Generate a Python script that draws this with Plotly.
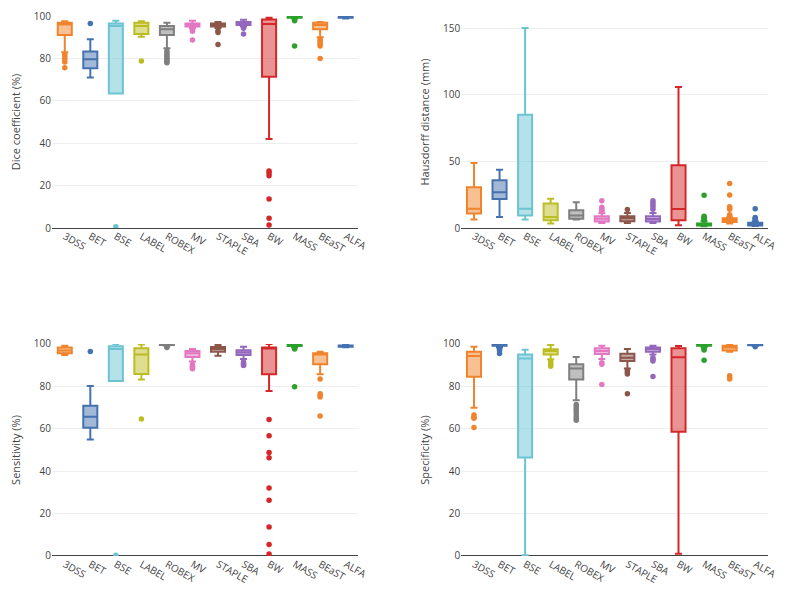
import plotly.graph_objects as go
from plotly.subplots import make_subplots

methods = ["3DSS", "BET", "BSE", "LABEL", "ROBEX", "MV", "STAPLE", "SBA", "BW", "MASS", "BEaST", "ALFA"]
colors = ["#f0842c", "#4472b0", "#6cc3d3", "#bcbd22", "#7f7f7f", "#e377c2",
          "#8c564b", "#9467bd", "#d62728", "#2ca02c", "#f0842c", "#4472b0"]

# Dice coefficient (%)
dice_lower = [82.9, 71.0, 63.5, 90.2, 84.8, 94.2, 94.3, 95.0, 42.0, 98.8, 90.0, 98.8]
dice_q1 = [91.0, 75.3, 63.5, 91.5, 91.0, 95.0, 95.0, 95.8, 71.4, 99.2, 93.8, 99.2]
dice_median = [96.0, 79.6, 95.3, 95.3, 93.7, 95.8, 95.8, 96.5, 96.2, 99.4, 95.8, 99.4]
dice_q3 = [96.8, 83.2, 96.5, 96.8, 95.3, 96.5, 96.5, 97.2, 98.4, 99.6, 96.8, 99.6]
dice_upper = [97.5, 89.0, 97.8, 97.5, 96.8, 97.8, 97.2, 98.2, 99.2, 99.8, 97.2, 99.9]
dice_outliers = [
    [81.9, 80.8, 79.6, 78.3, 75.6],
    [96.5],
    [0.6],
    [78.8],
    [83.5, 82.5, 81.5, 80.8, 80.0, 79.2, 78.5, 78.0],
    [93.4, 92.8, 88.7],
    [93.0, 92.2, 86.6],
    [94.2, 91.5],
    [26.9, 25.9, 24.7, 13.7, 4.6, 1.4],
    [98.2, 97.8, 85.8],
    [89.0, 88.2, 87.4, 86.6, 85.8, 80.0],
    [],
]

# Hausdorff distance (mm)
haus_lower = [6.3, 8.3, 6.3, 3.3, 6.3, 3.8, 3.8, 3.8, 2.0, 1.3, 3.3, 1.5]
haus_q1 = [10.8, 21.8, 9.3, 5.8, 7.0, 4.8, 5.0, 4.8, 5.8, 1.8, 4.5, 1.8]
haus_median = [14.5, 26.8, 14.5, 8.3, 9.3, 7.0, 7.3, 6.8, 14.3, 2.5, 6.0, 3.0]
haus_q3 = [30.6, 35.8, 84.9, 18.3, 13.3, 8.8, 8.8, 8.8, 47.1, 3.3, 7.3, 4.0]
haus_upper = [48.8, 43.6, 150.0, 22.0, 19.3, 11.0, 11.3, 11.3, 105.7, 5.0, 8.0, 5.0]
haus_outliers = [
    [], [], [], [], [],
    [20.5, 15.5, 14.5, 13.3, 12.5],
    [13.8],
    [20.5, 19.0, 17.5, 16.0, 14.0],
    [],
    [24.5, 8.8, 8.0, 7.3, 6.5, 6.0],
    [33.3, 24.8, 16.0, 15.0, 14.0, 10.0, 9.3],
    [14.5, 7.8, 7.0, 6.3],
]

# Sensitivity (%)
sens_lower = [94.8, 55.0, 82.5, 83.3, 99.2, 91.7, 94.5, 92.9, 77.8, 98.5, 85.7, 98.5]
sens_q1 = [95.6, 60.5, 82.5, 85.8, 99.5, 93.9, 96.4, 94.8, 85.7, 99.0, 90.4, 98.7]
sens_median = [96.9, 65.7, 97.6, 95.1, 99.8, 95.6, 97.6, 96.0, 97.9, 99.3, 95.0, 99.0]
sens_q3 = [98.3, 70.9, 98.9, 98.0, 100.0, 96.7, 98.6, 97.0, 98.4, 99.6, 95.6, 99.3]
sens_upper = [99.2, 80.2, 100.0, 99.8, 100.0, 97.6, 99.5, 98.7, 100.0, 99.9, 96.4, 99.7]
sens_outliers = [
    [],
    [96.5],
    [0.3],
    [64.6],
    [98.9, 98.4],
    [90.3, 89.5, 89.0, 88.3],
    [],
    [91.5, 90.8, 90.3, 89.8],
    [64.4, 56.7, 48.8, 46.3, 32.1, 26.3, 13.7, 5.4, 0.9],
    [98.0, 97.6, 79.8],
    [83.5, 76.5, 75.8, 75.0, 66.0],
    [],
]

# Specificity (%)
spec_lower = [69.9, 98.3, 0.3, 92.8, 73.5, 92.9, 88.5, 95.1, 1.1, 98.5, 96.4, 99.0]
spec_q1 = [84.6, 99.2, 46.5, 95.1, 83.3, 95.3, 92.0, 96.4, 58.6, 99.2, 96.9, 99.4]
spec_median = [94.3, 99.6, 93.2, 96.7, 88.5, 96.7, 93.5, 97.6, 93.7, 99.5, 98.3, 99.7]
spec_q3 = [96.4, 99.9, 95.1, 97.5, 90.4, 98.0, 95.4, 98.3, 98.0, 99.8, 99.2, 99.9]
spec_upper = [98.7, 100.0, 97.3, 99.5, 93.9, 99.2, 97.6, 99.2, 99.0, 100.0, 100.0, 100.0]
spec_outliers = [
    [66.5, 65.5, 65.0, 60.6],
    [97.5, 96.8, 95.5],
    [],
    [91.8, 91.0, 90.3, 89.5],
    [71.5, 70.5, 69.5, 68.5, 67.5, 66.0, 65.0, 64.0],
    [91.2, 90.4, 80.9],
    [87.5, 86.5, 85.8, 76.5],
    [93.5, 92.8, 92.0, 84.7],
    [],
    [97.8, 97.2, 92.3],
    [85.0, 84.0, 83.5],
    [98.7],
]

panels = [
    (1, 1, "Dice coefficient (%)", dice_lower, dice_q1, dice_median, dice_q3, dice_upper, dice_outliers, [0, 100], 20),
    (1, 2, "Hausdorff distance (mm)", haus_lower, haus_q1, haus_median, haus_q3, haus_upper, haus_outliers, [0, 159], 50),
    (2, 1, "Sensitivity (%)", sens_lower, sens_q1, sens_median, sens_q3, sens_upper, sens_outliers, [0, 100], 20),
    (2, 2, "Specificity (%)", spec_lower, spec_q1, spec_median, spec_q3, spec_upper, spec_outliers, [0, 100], 20),
]

fig = make_subplots(rows=2, cols=2)

for (r, c, title, lo, q1, med, q3, up, outs, yr, dt) in panels:
    for i, m in enumerate(methods):
        fig.add_trace(go.Box(
            x=[m], q1=[q1[i]], median=[med[i]], q3=[q3[i]],
            lowerfence=[lo[i]], upperfence=[up[i]], width=0.55,
            name=m, marker_color=colors[i], line=dict(color=colors[i], width=2),
            boxpoints=False, showlegend=False, hoverinfo="skip"), row=r, col=c)
        if outs[i]:
            fig.add_trace(go.Scatter(
                x=[m] * len(outs[i]), y=outs[i], mode="markers",
                marker=dict(color=colors[i], size=5.5),
                showlegend=False, hoverinfo="skip"), row=r, col=c)
    fig.update_yaxes(title_text=title, range=yr, dtick=dt, row=r, col=c)

fig.update_xaxes(tickangle=30, showgrid=False, zeroline=False, showline=False,
                 type="category", categoryorder="array", categoryarray=methods,
                 range=[-0.5, 11.5], tickfont=dict(size=10, color="#444"))
fig.update_yaxes(showgrid=True, gridcolor="#eeeeee", gridwidth=1, zeroline=True,
                 zerolinecolor="#444", zerolinewidth=1, showline=False, ticks="",
                 tickfont=dict(size=10, color="#444"), title_font=dict(size=11, color="#444"))

# page body has an 8px default margin, so the figure is sized to fit the window
fig.update_layout(
    template="none",
    width=779, height=588, autosize=False,
    margin=dict(l=44, r=19, t=8, b=40),
    paper_bgcolor="white", plot_bgcolor="white",
    font=dict(family="Open Sans", size=10, color="#444"),
    boxmode="overlay",
    xaxis=dict(domain=[0, 0.428]), xaxis2=dict(domain=[0.5715, 1]),
    xaxis3=dict(domain=[0, 0.428]), xaxis4=dict(domain=[0.5715, 1]),
    yaxis=dict(domain=[0.6074, 1]), yaxis2=dict(domain=[0.6074, 1]),
    yaxis3=dict(domain=[0, 0.3926]), yaxis4=dict(domain=[0, 0.3926]),
)

fig.write_html("out.html")
